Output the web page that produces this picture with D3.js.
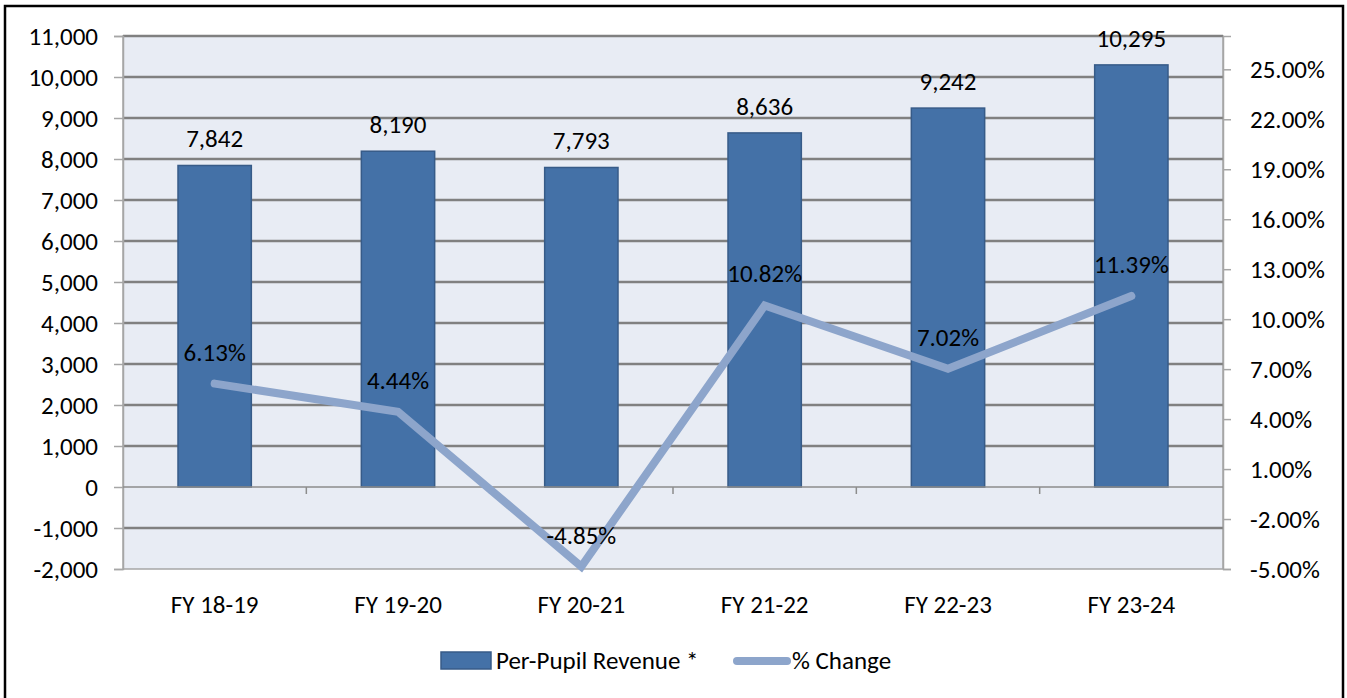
<!DOCTYPE html>
<html lang="en">
<head>
    <meta charset="UTF-8">
    <title>Per-Pupil Revenue and % Change</title>
    <script src="https://d3js.org/d3.v7.min.js"></script>
    <style>
        body {
            margin: 0;
            background: #ffffff;
            font-family: Carlito, Lato, "Open Sans", sans-serif;
        }
        svg text {
            fill: #000;
        }
    </style>
</head>
<body>
    <div id="chart"></div>
    <script>
        // Data
        const years = ["FY 18-19", "FY 19-20", "FY 20-21", "FY 21-22", "FY 22-23", "FY 23-24"];
        const revenue = [7842, 8190, 7793, 8636, 9242, 10295];
        const pctChange = [6.13, 4.44, -4.85, 10.82, 7.02, 11.39];
        const leftTicks = d3.range(-2000, 11001, 1000);
        const rightTicks = d3.range(-5, 26, 3);

        const width = 1347;
        const height = 698;
        const plot = { left: 123, right: 1223, top: 36, bottom: 569 };
        const fontSize = "25px";

        const barColor = "#4471a7";
        const barStroke = "#375b88";
        const lineColor = "#8da5cb";
        const gridColor = "#808080";

        // plain hyphen for negatives, like the original
        const fmtNum = d => d3.format(",")(d).replace("\u2212", "-");
        const fmtPct = d => d3.format(".2f")(d).replace("\u2212", "-") + "%";

        const svg = d3.select("#chart")
            .append("svg")
            .attr("width", width)
            .attr("height", height);

        // outer frame
        svg.append("rect")
            .attr("x", 5).attr("y", 6)
            .attr("width", 1338).attr("height", 720)
            .attr("fill", "#fff")
            .attr("stroke", "#000")
            .attr("stroke-width", 2.5);

        const x = d3.scaleBand()
            .domain(years)
            .range([plot.left, plot.right]);

        const y = d3.scaleLinear()
            .domain([-2000, 11000])
            .range([plot.bottom, plot.top]);

        const y2 = d3.scaleLinear()
            .domain([-5, 27])
            .range([plot.bottom, plot.top]);

        // plot background
        svg.append("rect")
            .attr("x", plot.left).attr("y", plot.top)
            .attr("width", plot.right - plot.left)
            .attr("height", plot.bottom - plot.top)
            .attr("fill", "#e8ecf4")
            .attr("stroke", "#a6a6a6")
            .attr("stroke-width", 1.5);

        // gridlines
        svg.append("g")
            .selectAll("line")
            .data(leftTicks.filter(d => d !== 0 && d !== -2000))
            .join("line")
            .attr("x1", plot.left).attr("x2", plot.right)
            .attr("y1", d => y(d)).attr("y2", d => y(d))
            .attr("stroke", gridColor)
            .attr("stroke-width", 2.5);

        // left axis
        const leftAxis = svg.append("g")
            .attr("transform", `translate(${plot.left},0)`)
            .call(d3.axisLeft(y).tickValues(leftTicks).tickSize(9).tickPadding(16)
                .tickFormat(fmtNum));
        leftAxis.select(".domain").attr("stroke", "#a6a6a6").attr("stroke-width", 1.5);
        leftAxis.selectAll(".tick line").attr("stroke", "#a6a6a6").attr("stroke-width", 1.5);
        leftAxis.selectAll(".tick text")
            .style("font-size", fontSize)
            .style("font-family", "Carlito, Lato, sans-serif");

        // right axis
        const rightAxis = svg.append("g")
            .attr("transform", `translate(${plot.right},0)`)
            .call(d3.axisRight(y2).tickValues(rightTicks).tickSize(8).tickPadding(19)
                .tickFormat(fmtPct));
        rightAxis.select(".domain").attr("stroke", "#a6a6a6").attr("stroke-width", 1.5);
        rightAxis.selectAll(".tick line").attr("stroke", "#a6a6a6").attr("stroke-width", 1.5);
        rightAxis.selectAll(".tick text")
            .style("font-size", fontSize)
            .style("font-family", "Carlito, Lato, sans-serif");

        // bars
        const barW = x.bandwidth() * 0.4;
        svg.append("g")
            .selectAll("rect")
            .data(revenue)
            .join("rect")
            .attr("x", (d, i) => x(years[i]) + (x.bandwidth() - barW) / 2)
            .attr("y", d => y(d))
            .attr("width", barW)
            .attr("height", d => y(0) - y(d))
            .attr("fill", barColor)
            .attr("stroke", barStroke)
            .attr("stroke-width", 1.5);

        // zero axis line with category ticks
        svg.append("line")
            .attr("x1", plot.left).attr("x2", plot.right)
            .attr("y1", y(0)).attr("y2", y(0))
            .attr("stroke", "#8c8c8c")
            .attr("stroke-width", 1.5);
        svg.append("g")
            .selectAll("line")
            .data(years.slice(1))
            .join("line")
            .attr("x1", d => x(d)).attr("x2", d => x(d))
            .attr("y1", y(0)).attr("y2", y(0) + 7)
            .attr("stroke", "#8c8c8c")
            .attr("stroke-width", 1.5);

        // category labels
        svg.append("g")
            .selectAll("text")
            .data(years)
            .join("text")
            .attr("x", d => x(d) + x.bandwidth() / 2)
            .attr("y", plot.bottom + 44)
            .attr("text-anchor", "middle")
            .style("font-size", fontSize)
            .text(d => d);

        // bar value labels
        svg.append("g")
            .selectAll("text")
            .data(revenue)
            .join("text")
            .attr("x", (d, i) => x(years[i]) + x.bandwidth() / 2)
            .attr("y", d => y(d) - 18)
            .attr("text-anchor", "middle")
            .style("font-size", fontSize)
            .text(fmtNum);

        // % change line
        const line = d3.line()
            .x((d, i) => x(years[i]) + x.bandwidth() / 2)
            .y(d => y2(d));

        svg.append("path")
            .datum(pctChange)
            .attr("d", line)
            .attr("fill", "none")
            .attr("stroke", lineColor)
            .attr("stroke-width", 8)
            .attr("stroke-linecap", "round")
            .attr("stroke-linejoin", "miter");

        svg.append("g")
            .selectAll("text")
            .data(pctChange)
            .join("text")
            .attr("x", (d, i) => x(years[i]) + x.bandwidth() / 2)
            .attr("y", d => y2(d) - 23)
            .attr("text-anchor", "middle")
            .style("font-size", fontSize)
            .text(fmtPct);

        // legend
        const legend = svg.append("g");
        legend.append("rect")
            .attr("x", 441).attr("y", 652)
            .attr("width", 50).attr("height", 17)
            .attr("fill", barColor)
            .attr("stroke", barStroke)
            .attr("stroke-width", 1.5);
        legend.append("text")
            .attr("x", 496).attr("y", 669)
            .style("font-size", fontSize)
            .text("Per-Pupil Revenue *");
        legend.append("line")
            .attr("x1", 737).attr("x2", 787)
            .attr("y1", 661).attr("y2", 661)
            .attr("stroke", lineColor)
            .attr("stroke-width", 8)
            .attr("stroke-linecap", "round");
        legend.append("text")
            .attr("x", 792).attr("y", 669)
            .style("font-size", fontSize)
            .text("% Change");
    </script>
</body>
</html>
